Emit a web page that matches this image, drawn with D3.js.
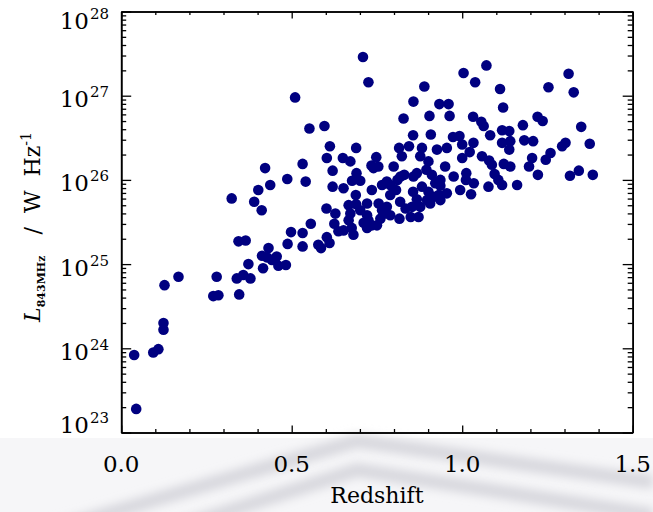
<!DOCTYPE html>
<html>
<head>
<meta charset="utf-8">
<script src="https://cdn.jsdelivr.net/npm/d3@7"></script>
<style>
  body { margin: 0; background: #fff; }
  svg text { font-family: "DejaVu Serif", "Liberation Serif", serif; fill: #000; }
</style>
</head>
<body>
<div id="chart"></div>
<script>
// redshift of each source
var redshift = [0.038, 0.044, 0.094, 0.109, 0.124, 0.124, 0.127, 0.168, 0.280, 0.270,
    0.285, 0.339, 0.346, 0.358, 0.379, 0.373, 0.344, 0.365, 0.413, 0.432,
    0.416, 0.427, 0.456, 0.461, 0.483, 0.488, 0.498, 0.532, 0.532, 0.442,
    0.556, 0.578, 0.586, 0.603, 0.611, 0.602, 0.628, 0.625, 0.637, 0.324,
    0.402, 0.390, 0.412, 0.437, 0.422, 0.487, 0.541, 0.532, 0.603, 0.620,
    0.620, 0.510, 0.552, 0.596, 0.612, 0.709, 0.725, 0.689, 0.650, 0.672,
    0.690, 0.677, 0.701, 0.652, 0.740, 0.748, 0.734, 0.754, 0.735, 0.688,
    0.689, 0.667, 0.672, 0.652, 0.681, 0.711, 0.725, 0.750, 0.701, 0.721,
    0.755, 0.765, 0.789, 0.799, 0.815, 0.823, 0.844, 0.857, 0.828, 0.889,
    0.933, 0.960, 0.904, 0.963, 0.856, 0.908, 0.882, 0.877, 0.926, 0.955,
    0.973, 0.992, 1.004, 1.038, 1.032, 1.056, 1.063, 1.033, 1.000, 1.022,
    1.000, 1.058, 0.901, 0.895, 0.950, 0.867, 0.857, 0.830, 0.810, 0.789,
    0.779, 0.856, 0.882, 0.921, 0.901, 0.955, 0.975, 1.012, 0.994, 1.026,
    1.034, 1.011, 0.853, 0.834, 0.816, 0.877, 0.897, 0.916, 0.936, 0.867,
    0.760, 0.779, 0.772, 0.819, 0.806, 0.936, 0.931, 0.818, 0.906, 0.721,
    0.765, 0.789, 0.872, 0.667, 0.735, 0.676, 0.721, 0.849, 1.117, 1.161,
    1.071, 1.111, 1.312, 1.253, 1.327, 1.120, 1.221, 1.236, 1.178, 1.349,
    1.117, 1.138, 1.082, 1.117, 1.141, 1.138, 1.182, 1.208, 1.079, 1.303,
    1.293, 1.374, 1.205, 1.259, 1.245, 1.196, 1.087, 1.122, 1.141, 0.911,
    1.095, 1.106, 1.077, 1.222, 1.316, 1.342, 1.383, 0.936];

// log10 of the 843 MHz luminosity (W/Hz), same order
var logLum = [23.92, 23.28, 23.95, 23.99, 24.30, 24.22, 24.75, 24.85, 24.85, 24.62,
    24.63, 24.83, 24.64, 24.87, 24.83, 25.00, 25.27, 25.28, 25.10, 25.19,
    24.95, 25.08, 25.09, 24.98, 24.99, 25.24, 25.38, 25.37, 25.21, 25.05,
    25.48, 25.23, 25.19, 25.32, 25.25, 25.66, 25.60, 25.48, 25.39, 25.78,
    25.88, 25.74, 25.64, 25.94, 26.14, 26.01, 25.98, 26.19, 26.26, 26.11,
    25.92, 26.98, 26.61, 26.64, 26.40, 27.46, 27.16, 26.38, 26.26, 26.22,
    26.08, 25.99, 25.99, 25.90, 26.14, 26.27, 26.17, 26.16, 25.88, 25.82,
    25.71, 25.70, 25.60, 25.40, 25.35, 25.49, 25.52, 25.46, 25.64, 25.72,
    25.72, 25.94, 25.82, 26.16, 26.38, 26.28, 26.40, 26.93, 26.73, 27.11,
    26.90, 26.90, 26.76, 26.76, 26.53, 26.54, 26.38, 26.28, 26.36, 26.38,
    26.51, 26.52, 27.27, 27.16, 26.75, 26.69, 26.64, 26.44, 26.42, 26.33,
    26.26, 26.28, 26.22, 26.12, 26.16, 26.08, 26.04, 26.06, 26.00, 25.94,
    25.98, 25.86, 25.92, 25.96, 25.86, 25.84, 26.04, 26.08, 25.88, 25.83,
    25.96, 26.00, 25.68, 25.66, 25.54, 25.68, 25.76, 25.80, 25.76, 25.77,
    25.54, 25.68, 25.60, 26.04, 25.88, 26.00, 25.82, 25.74, 25.72, 25.58,
    25.64, 25.58, 25.56, 25.52, 25.46, 25.43, 25.43, 25.56, 25.94, 25.94,
    27.36, 27.08, 27.26, 27.10, 27.04, 26.86, 26.75, 26.70, 26.65, 26.63,
    26.59, 26.58, 26.53, 26.44, 26.46, 26.36, 26.47, 26.46, 26.23, 26.44,
    26.40, 26.43, 26.26, 26.32, 26.24, 26.16, 26.18, 26.19, 26.16, 26.06,
    26.07, 26.00, 25.92, 26.06, 26.05, 26.11, 26.06, 25.93];

var xMajor = [0, 0.5, 1.0, 1.5];
var xLabels = ["0.0", "0.5", "1.0", "1.5"];
var yExponents = [23, 24, 25, 26, 27, 28];

var width = 653, height = 512;
var plotLeft = 121.2, plotRight = 632.7, plotTop = 11.5, plotBottom = 432.5;

var svg = d3.select("#chart").append("svg")
    .attr("width", width)
    .attr("height", height);

// faint watermark chevrons behind the plot (bottom of the picture)
var defs = svg.append("defs");
defs.append("filter").attr("id", "soft")
    .attr("x", "-20%").attr("y", "-50%").attr("width", "140%").attr("height", "200%")
    .append("feGaussianBlur").attr("stdDeviation", 5);
svg.append("rect")
    .attr("x", 0).attr("y", 438).attr("width", width).attr("height", height - 438)
    .attr("fill", "#f6f6f8");
var chevrons = [[[0, 545], [357, 441], [653, 482]], [[60, 565], [357, 470], [653, 515]]];
chevrons.forEach(function(c) {
    svg.append("path")
        .attr("d", d3.line()(c))
        .attr("fill", "none")
        .attr("stroke", "#d8d8de")
        .attr("stroke-width", 14)
        .attr("filter", "url(#soft)");
});

var x = d3.scaleLinear().domain([0, 1.5]).range([plotLeft, plotRight]);
var y = d3.scaleLog().domain([1e23, 1e28]).range([plotBottom, plotTop]);

var xMinor = d3.range(0, 1.5001, 0.1).filter(function(v) {
    return Math.abs(v * 2 - Math.round(v * 2)) > 1e-6;
});
var yAll = y.ticks();
var yMajor = yAll.filter(function(v) {
    return Math.abs(Math.log10(v) - Math.round(Math.log10(v))) < 1e-6;
});
var yMinor = yAll.filter(function(v) { return yMajor.indexOf(v) == -1; });

// points
svg.append("g").selectAll("circle")
    .data(redshift.map(function(z, i) { return { z: z, l: Math.pow(10, logLum[i]) }; }))
    .enter()
    .append("circle")
    .attr("cx", function(d) { return x(d.z); })
    .attr("cy", function(d) { return y(d.l); })
    .attr("r", 5.3)
    .attr("fill", "#000080");

function styleAxis(g) {
    g.selectAll("line").attr("stroke", "#000").attr("stroke-width", 1.3);
    g.selectAll("path").attr("stroke", "#000").attr("stroke-width", 1.6);
    g.selectAll("text").remove();
}

// axes with inward ticks on all four sides
svg.append("g").attr("transform", "translate(0," + plotBottom + ")")
    .call(d3.axisBottom(x).tickValues(xMajor).tickSize(-7).tickSizeOuter(0)).call(styleAxis);
svg.append("g").attr("transform", "translate(0," + plotBottom + ")")
    .call(d3.axisBottom(x).tickValues(xMinor).tickSize(-3.5).tickSizeOuter(0)).call(styleAxis);
svg.append("g").attr("transform", "translate(0," + plotTop + ")")
    .call(d3.axisTop(x).tickValues(xMajor).tickSize(-7).tickSizeOuter(0)).call(styleAxis);
svg.append("g").attr("transform", "translate(0," + plotTop + ")")
    .call(d3.axisTop(x).tickValues(xMinor).tickSize(-3.5).tickSizeOuter(0)).call(styleAxis);
svg.append("g").attr("transform", "translate(" + plotLeft + ",0)")
    .call(d3.axisLeft(y).tickValues(yMajor).tickSize(-10).tickSizeOuter(0)).call(styleAxis);
svg.append("g").attr("transform", "translate(" + plotLeft + ",0)")
    .call(d3.axisLeft(y).tickValues(yMinor).tickSize(-5).tickSizeOuter(0)).call(styleAxis);
svg.append("g").attr("transform", "translate(" + plotRight + ",0)")
    .call(d3.axisRight(y).tickValues(yMajor).tickSize(-10).tickSizeOuter(0)).call(styleAxis);
svg.append("g").attr("transform", "translate(" + plotRight + ",0)")
    .call(d3.axisRight(y).tickValues(yMinor).tickSize(-5).tickSizeOuter(0)).call(styleAxis);

// x tick labels
svg.append("g").selectAll("text")
    .data(xMajor)
    .enter()
    .append("text")
    .attr("x", function(d) { return x(d); })
    .attr("y", 472)
    .attr("text-anchor", "middle")
    .style("font-size", "23px")
    .text(function(d, i) { return xLabels[i]; });

// y tick labels, 10 with exponent
yExponents.forEach(function(e) {
    var base = Math.max(29, Math.min(433, y(Math.pow(10, e)) + 11.5));
    svg.append("text")
        .attr("x", 89)
        .attr("y", base)
        .attr("text-anchor", "end")
        .style("font-size", "23px")
        .text("10");
    svg.append("text")
        .attr("x", 90)
        .attr("y", base - 10)
        .style("font-size", "15px")
        .text(e);
});

// axis titles
svg.append("text")
    .attr("x", (plotLeft + plotRight) / 2)
    .attr("y", 503)
    .attr("text-anchor", "middle")
    .style("font-size", "22px")
    .text("Redshift");

var yt = svg.append("text")
    .attr("transform", "translate(40," + ((plotTop + plotBottom) / 2 + 5) + ") rotate(-90)")
    .attr("text-anchor", "middle")
    .style("font-size", "22px")
    .style("white-space", "pre");
yt.append("tspan").style("font-style", "italic").text("L");
yt.append("tspan").attr("dy", 5).style("font-size", "11px").style("font-weight", "bold").text("843MHz");
yt.append("tspan").attr("dy", -5).text("   /  W  Hz");
yt.append("tspan").attr("dy", -9).style("font-size", "14px").text("-1");
</script>
</body>
</html>
